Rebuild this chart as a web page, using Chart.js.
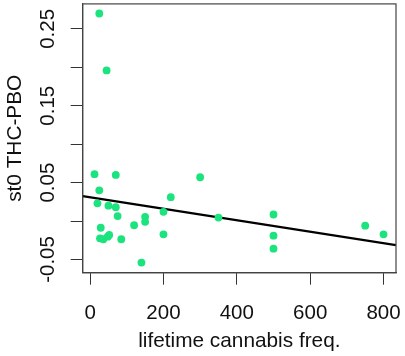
<!DOCTYPE html>
<html>
<head>
<meta charset="utf-8">
<script src="https://cdn.jsdelivr.net/npm/chart.js@4/dist/chart.umd.min.js"></script>
<style>
  html, body { margin: 0; padding: 0; background: #fff; }
  #wrap { width: 405px; height: 356px; }
</style>
</head>
<body>
<div id="wrap"><canvas id="c" width="405" height="356"></canvas></div>
<script>
// ---- data ----
const xValues = [25, 45, 12, 70, 300, 25, 20, 220, 50, 70, 75, 150, 150, 200, 350, 500, 120, 29, 27, 36, 48, 52, 85, 140, 200, 500, 500, 750, 800];
const yValues = [0.270, 0.196, 0.061, 0.060, 0.057, 0.040, 0.023, 0.031, 0.020, 0.018, 0.0065, 0.0055, -0.001, 0.012, 0.0045, 0.0085, -0.0055, -0.0087, -0.0225, -0.0237, -0.0203, -0.018, -0.0237, -0.054, -0.0173, -0.019, -0.036, -0.006, -0.0173];
const fitIntercept = 0.0309;
const fitSlope = -0.0000745;
const xTickValues = [0, 200, 400, 600, 800];
const yTickValues = [-0.05, 0, 0.05, 0.10, 0.15, 0.20, 0.25];
const yTickLabels = ['-0.05', '0.05', '0.15', '0.25'];
const xTitle = 'lifetime cannabis freq.';
const yTitle = 'st0 THC-PBO';
const X_MIN = -20.2, X_MAX = 834;
const Y_MIN = -0.0672, Y_MAX = 0.2825;

const points = xValues.map((x, i) => ({ x: x, y: yValues[i] }));
const fitLine = [X_MIN, X_MAX].map(x => ({ x: x, y: fitIntercept + fitSlope * x }));

const FONT = "'Liberation Sans', Arial, Helvetica, sans-serif";
const GREEN = '#1be37d';

const boxPlugin = {
  id: 'box',
  afterDraw(chart) {
    const a = chart.chartArea, ctx = chart.ctx;
    ctx.save();
    ctx.strokeStyle = '#444';
    ctx.lineWidth = 1.2;
    ctx.strokeRect(a.left, a.top, a.right - a.left, a.bottom - a.top);
    ctx.restore();
  }
};

new Chart(document.getElementById('c'), {
  type: 'scatter',
  data: {
    datasets: [
      {
        data: points,
        backgroundColor: GREEN,
        borderWidth: 0,
        pointRadius: 3.9,
        pointHoverRadius: 3.9
      },
      {
        type: 'line',
        data: fitLine,
        borderColor: '#000',
        borderWidth: 2.3,
        pointRadius: 0,
        fill: false,
        tension: 0
      }
    ]
  },
  options: {
    responsive: false,
    animation: false,
    devicePixelRatio: 1,
    layout: { padding: { top: 3, right: 9, left: 0, bottom: 0 } },
    plugins: { legend: { display: false }, tooltip: { enabled: false } },
    scales: {
      x: {
        type: 'linear',
        min: X_MIN, max: X_MAX,
        afterBuildTicks: s => { s.ticks = xTickValues.map(v => ({ value: v })); },
        afterFit: s => { s.height = 83.3; s.paddingLeft = 0; s.paddingRight = 0; },
        grid: { drawOnChartArea: false, drawTicks: true, tickLength: 12, color: '#333', lineWidth: 1 },
        border: { display: true, color: '#444', width: 1.2 },
        ticks: {
          autoSkip: false, maxRotation: 0, padding: 16,
          color: '#111',
          font: { family: FONT, size: 20.5 },
          callback: v => String(v)
        },
        title: {
          display: true, text: xTitle, color: '#111',
          font: { family: FONT, size: 20.8 },
          padding: { top: 0, bottom: 2 }
        }
      },
      y: {
        type: 'linear',
        min: Y_MIN, max: Y_MAX,
        afterBuildTicks: s => { s.ticks = yTickValues.map(v => ({ value: v })); },
        afterFit: s => { s.width = 82.7; s.paddingTop = 0; s.paddingBottom = 0; },
        grid: { drawOnChartArea: false, drawTicks: true, tickLength: 12, color: '#333', lineWidth: 1 },
        border: { display: true, color: '#444', width: 1.2 },
        ticks: {
          autoSkip: false, minRotation: 90, maxRotation: 90,
          crossAlign: 'center', padding: -1.5,
          color: '#111',
          font: { family: FONT, size: 20.5 },
          callback: v => { const s = v.toFixed(2); return yTickLabels.includes(s) ? s : ''; }
        },
        title: {
          display: true, text: yTitle, color: '#111',
          font: { family: FONT, size: 20.8 },
          padding: { top: 2.5, bottom: 0 }
        }
      }
    }
  },
  plugins: [boxPlugin]
});
</script>
</body>
</html>
